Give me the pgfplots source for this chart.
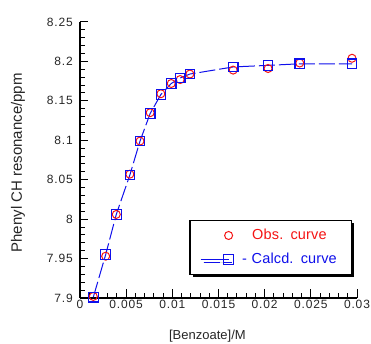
\documentclass[border=0pt]{standalone}
\usepackage{pgfplots}
\pgfplotsset{compat=1.18}
\usepackage{fontspec}
\setmainfont{Liberation Sans}
\newfontfamily\tickfont[LetterSpace=7]{Liberation Sans}
\newfontfamily\legfont[LetterSpace=1]{Liberation Sans}
\usetikzlibrary{shadows}
\definecolor{obsred}{RGB}{245,20,20}
\definecolor{calcblue}{RGB}{15,15,235}
\pgfplotsset{
  obsleg/.style={legend image code/.code={\path (0pt,0pt); \draw[##1] plot coordinates {(28pt,0pt)};}},
  calcleg/.style={legend image code/.code={\draw[##1, solid, mark repeat=2, mark phase=2] plot coordinates {(0pt,0pt) (28pt,0pt)};}},
}
\begin{document}
\begin{tikzpicture}
\begin{axis}[
  scale only axis,
  width=277pt, height=276pt,
  xmin=0, xmax=0.03, ymin=7.9, ymax=8.25,
  axis x line*=bottom, axis y line*=left,
  axis line style={line width=1.3pt, -},
  xtick distance=0.005, ytick distance=0.05,
  minor x tick num=4, minor y tick num=4,
  tick align=inside,
  major tick length=8.5pt, minor tick length=5pt,
  every tick/.style={black, line width=1pt},
  scaled x ticks=false, scaled y ticks=false,
  /pgf/number format/assume math mode=true,
  xticklabel style={/pgf/number format/fixed, /pgf/number format/precision=3, inner sep=1pt, yshift=-1pt},
  yticklabel style={/pgf/number format/fixed, /pgf/number format/precision=2, inner sep=1pt, xshift=-6pt},
  tick label style={font=\tickfont\fontsize{12}{13}\selectfont, color=black!85},
  xlabel={[Benzoate]/M},
  ylabel={Phenyl CH resonance/ppm},
  xlabel style={at={(axis description cs:0.46,-0.138)}, anchor=center, font=\fontsize{13}{15}\selectfont, color=black!85},
  ylabel style={at={(axis description cs:-0.224,0.49)}, anchor=center, font=\fontsize{15}{17}\selectfont, color=black!85},
  legend cell align=center,
  legend style={at={(0.982,0.083)}, anchor=south east,
    draw=black, line width=1.2pt, fill=white,
    drop shadow={shadow xshift=3pt, shadow yshift=-3pt, fill=black, opacity=1},
    inner xsep=10pt, inner ysep=7pt, row sep=8pt, column sep=4pt,
    font=\legfont\fontsize{14.5}{16}\selectfont,
    nodes={inner sep=2pt, text width=100pt, align=center}},
]
\addplot[only marks, mark=o, mark size=4pt, obsred, mark options={line width=1pt}, obsleg] coordinates {
 (0.00144,7.902) (0.00278,7.953) (0.00393,8.006) (0.0054,8.057) (0.0065,8.099)
 (0.0076,8.135) (0.00876,8.159) (0.00988,8.172) (0.01085,8.177) (0.0119,8.184)
 (0.01659,8.189) (0.02037,8.191) (0.0238,8.198) (0.02946,8.204)
};
\addlegendentry{\textcolor{obsred}{Obs. curve}}
\addplot[calcblue, line width=1pt, dash pattern=on 16pt off 4pt, mark=square, mark size=4.8pt, mark options={solid, line width=1.1pt}, calcleg] coordinates {
 (0.00144,7.901) (0.00278,7.955) (0.00393,8.006) (0.0054,8.056) (0.0065,8.099)
 (0.0076,8.134) (0.00876,8.158) (0.00988,8.172) (0.01085,8.179) (0.0119,8.184)
 (0.01659,8.193) (0.02037,8.195) (0.0238,8.197) (0.02946,8.197)
};
\addlegendentry{\textcolor{calcblue}{- Calcd. curve}}
\end{axis}
\pgfresetboundingbox
\path[use as bounding box] ([xshift=-80pt,yshift=-46pt]current axis.south west) rectangle ([xshift=14pt,yshift=22pt]current axis.north east);
\end{tikzpicture}
\end{document}
